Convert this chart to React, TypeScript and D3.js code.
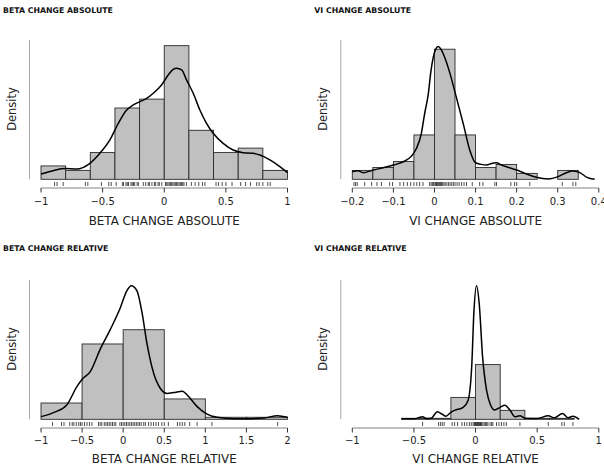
import React from 'react';
import * as d3 from 'd3';

// histogram bins, counts, density line and rug for each variable

const betaAbsEdges = [-1, -0.8, -0.6, -0.4, -0.2, 0, 0.2, 0.4, 0.6, 0.8, 1];
const betaAbsCounts = [3, 2, 6, 16, 18, 30, 11, 6, 7, 2];
const betaAbsCurve: [number, number][] = [
    [-1, 0.059], [-0.9, 0.096], [-0.805, 0.119], [-0.711, 0.115], [-0.603, 0.178],
    [-0.522, 0.289], [-0.441, 0.437], [-0.373, 0.622], [-0.305, 0.77], [-0.251, 0.826],
    [-0.197, 0.863], [-0.143, 0.9], [-0.089, 0.956], [-0.022, 1.048], [0.032, 1.159],
    [0.073, 1.222], [0.1, 1.233], [0.141, 1.215], [0.181, 1.104], [0.235, 0.956],
    [0.289, 0.77], [0.343, 0.622], [0.397, 0.511], [0.478, 0.4], [0.559, 0.326],
    [0.641, 0.296], [0.722, 0.289], [0.776, 0.27], [0.857, 0.215], [0.938, 0.141], [1, 0.074],
];
const betaAbsRug = [
    -0.89, -0.87, -0.82, -0.64, -0.62, -0.51, -0.45, -0.43, -0.39, -0.34, -0.33, -0.31, -0.3,
    -0.29, -0.27, -0.26, -0.25, -0.24, -0.22, -0.21, -0.17, -0.15, -0.13, -0.12, -0.1, -0.08,
    -0.07, -0.05, -0.04, -0.02, 0.01, 0.02, 0.03, 0.04, 0.05, 0.06, 0.07, 0.08, 0.09, 0.1, 0.11,
    0.12, 0.13, 0.14, 0.15, 0.16, 0.18, 0.22, 0.25, 0.28, 0.31, 0.33, 0.42, 0.44, 0.47, 0.5,
    0.55, 0.62, 0.66, 0.7, 0.75, 0.77, 0.8, 0.84, 0.86,
];
const betaAbsTicks = [-1, -0.5, 0, 0.5, 1];

const viAbsEdges = [-0.2, -0.15, -0.1, -0.05, 0, 0.05, 0.1, 0.15, 0.2, 0.25, 0.3, 0.35];
const viAbsCounts = [3, 4, 6, 15, 44, 15, 4, 5, 2, 0, 3];
const viAbsCurve: [number, number][] = [
    [-0.2, 0.51], [-0.186, 0.576], [-0.174, 0.443], [-0.149, 0.621], [-0.125, 0.776],
    [-0.1, 0.953], [-0.076, 1.175], [-0.056, 1.552], [-0.044, 2.062], [-0.032, 3.06],
    [-0.024, 4.39], [-0.015, 5.72], [-0.009, 7.16], [-0.003, 8.16], [0.003, 8.71],
    [0.009, 8.89], [0.017, 8.65], [0.025, 8.16], [0.037, 7.16], [0.049, 5.94], [0.07, 3.73],
    [0.086, 1.95], [0.1, 1.11], [0.114, 1.0], [0.127, 0.953], [0.139, 1.064], [0.151, 1.109],
    [0.163, 0.953], [0.175, 0.843], [0.2, 0.621], [0.224, 0.355], [0.248, 0.133],
    [0.277, 0.022], [0.301, 0.177], [0.321, 0.443], [0.337, 0.554], [0.354, 0.443],
    [0.371, 0.133], [0.39, 0.0],
];
const viAbsRug = [
    -0.196, -0.192, -0.188, -0.17, -0.153, -0.14, -0.129, -0.109, -0.102, -0.084, -0.075,
    -0.066, -0.058, -0.05, -0.043, -0.036, -0.028, -0.012, -0.008, -0.005, -0.002, 0.001,
    0.003, 0.005, 0.007, 0.009, 0.011, 0.013, 0.015, 0.017, 0.02, 0.023, 0.026, 0.03, 0.034,
    0.038, 0.042, 0.046, 0.05, 0.055, 0.06, 0.066, 0.072, 0.078, 0.092, 0.11, 0.118, 0.147,
    0.151, 0.186, 0.195, 0.2, 0.232, 0.311, 0.337, 0.344,
];
const viAbsTicks = [-0.2, -0.1, 0, 0.1, 0.2, 0.3, 0.4];

const betaRelEdges = [-1, -0.5, 0, 0.5, 1, 1.5, 2];
const betaRelCounts = [8, 37, 44, 10, 1, 1];
const betaRelCurve: [number, number][] = [
    [-1, 0.026], [-0.849, 0.065], [-0.687, 0.139], [-0.565, 0.316], [-0.491, 0.397],
    [-0.402, 0.461], [-0.28, 0.68], [-0.159, 0.87], [-0.037, 1.08], [0.044, 1.25],
    [0.099, 1.3], [0.168, 1.25], [0.229, 1.04], [0.29, 0.736], [0.372, 0.445],
    [0.453, 0.3], [0.534, 0.252], [0.616, 0.26], [0.718, 0.274], [0.799, 0.219],
    [0.901, 0.123], [1.015, 0.052], [1.145, 0.019], [1.349, 0.006], [1.512, 0.006],
    [1.715, 0.013], [1.878, 0.035], [2, 0.019],
];
const betaRelRug = [
    -0.86, -0.75, -0.72, -0.65, -0.62, -0.6, -0.57, -0.54, -0.52, -0.5, -0.47, -0.44, -0.41,
    -0.38, -0.3, -0.28, -0.26, -0.23, -0.21, -0.19, -0.17, -0.15, -0.13, -0.11, -0.09, -0.04,
    -0.02, 0, 0.02, 0.04, 0.06, 0.08, 0.1, 0.12, 0.14, 0.16, 0.18, 0.2, 0.22, 0.25, 0.27, 0.31,
    0.34, 0.37, 0.4, 0.43, 0.47, 0.5, 0.55, 0.66, 0.69, 0.72, 0.75, 0.81, 0.9, 1.08, 1.88,
];
const betaRelTicks = [-1, -0.5, 0, 0.5, 1, 1.5, 2];

const viRelEdges = [-0.6, -0.4, -0.2, 0, 0.2, 0.4, 0.6, 0.8];
const viRelCounts = [1, 1, 22, 55, 9, 1, 1];
const viRelCurve: [number, number][] = [
    [-0.6, 0.03], [-0.5, 0.03], [-0.45, 0.11], [-0.43, 0.145], [-0.4, 0.04], [-0.36, 0.06],
    [-0.31, 0.42], [-0.27, 0.28], [-0.24, 0.17], [-0.2, 0.39], [-0.17, 0.5], [-0.1, 0.67],
    [-0.06, 1.07], [-0.03, 3.1], [-0.014, 5.9], [0.008, 7.46], [0.03, 6.44], [0.057, 3.5],
    [0.09, 1.6], [0.12, 0.83], [0.155, 0.52], [0.2, 0.67], [0.238, 0.79], [0.28, 0.5],
    [0.32, 0.14], [0.36, 0.2], [0.4, 0.06], [0.5, 0.04], [0.59, 0.2], [0.64, 0.08],
    [0.705, 0.33], [0.75, 0.09], [0.79, 0.17], [0.84, 0],
];
const viRelRug = [
    -0.43, -0.3, -0.285, -0.27, -0.255, -0.19, -0.17, -0.146, -0.11, -0.09, -0.07, -0.05,
    -0.035, -0.02, -0.01, -0.005, 0, 0.005, 0.01, 0.015, 0.02, 0.025, 0.03, 0.035, 0.04,
    0.045, 0.05, 0.06, 0.07, 0.08, 0.09, 0.1, 0.117, 0.13, 0.14, 0.17, 0.19, 0.21, 0.23,
    0.25, 0.36, 0.59, 0.7, 0.72, 0.79,
];
const viRelTicks = [-1, -0.5, 0, 0.5, 1];

const FONT = '"DejaVu Sans", sans-serif';

// layout inside one panel
const plotLeft = 41;
const plotRight = 287.5;
const plotTop = 40;
const plotBottom = 179.3;

function fmt(v: number) {
    return v < 0 ? '\u2212' + String(-v) : String(v);
}

function Panel(props: any) {
    const { title, axisTitle, edges, counts, curve, rug, ticks, yMax, dx, dy, titleY, labelY, axisTitleY } = props;

    const x = d3.scaleLinear().domain([ticks[0], ticks[ticks.length - 1]]).range([plotLeft, plotRight]);
    const y = d3.scaleLinear().domain([0, yMax]).range([plotBottom, plotTop]);
    const n = d3.sum(counts);

    const line = d3.line<[number, number]>()
        .x(d => x(d[0]))
        .y(d => y(d[1]))
        .curve(d3.curveMonotoneX);

    return (
        <g transform={`translate(${dx}, ${dy})`}>
            <text x={3} y={titleY} fontFamily={FONT} fontSize={7.8} fontWeight="bold" fill="#111">{title}</text>

            {/* y axis: plain line, no ticks */}
            <line x1={29.5} x2={29.5} y1={plotTop} y2={plotBottom} stroke="#a8a8a8" strokeWidth={1} />
            <text transform={`translate(15.5, 109) rotate(-90)`} textAnchor="middle"
                  fontFamily={FONT} fontSize={11.5} fill="#222">Density</text>

            {/* histogram */}
            {counts.map((c: number, i: number) => {
                const dens = c / (n * (edges[i + 1] - edges[i]));
                return (
                    <rect key={i}
                          x={x(edges[i])}
                          y={y(dens)}
                          width={x(edges[i + 1]) - x(edges[i])}
                          height={plotBottom - y(dens)}
                          fill="#c0c0c0" stroke="#2a2a2a" strokeWidth={0.9} />
                );
            })}

            {/* density line */}
            <path d={line(curve) || ''} fill="none" stroke="#000" strokeWidth={1.5} />

            {/* rug */}
            {rug.map((v: number, i: number) => (
                <line key={i} x1={x(v)} x2={x(v)} y1={182} y2={186} stroke="#222" strokeWidth={0.8} />
            ))}

            {/* x axis */}
            <line x1={x(ticks[0])} x2={x(ticks[ticks.length - 1])} y1={188} y2={188} stroke="#666" strokeWidth={0.8} />
            {ticks.map((t: number) => (
                <g key={t}>
                    <line x1={x(t)} x2={x(t)} y1={188} y2={192.5} stroke="#333" strokeWidth={1} />
                    <text x={x(t)} y={labelY} textAnchor="middle" fontFamily={FONT} fontSize={10} fill="#222">{fmt(t)}</text>
                </g>
            ))}
            <text x={(plotLeft + plotRight) / 2} y={axisTitleY} textAnchor="middle"
                  fontFamily={FONT} fontSize={11.9} fill="#222">{axisTitle}</text>
        </g>
    );
}

export default function App() {
    return (
        <svg width={604} height={465} style={{ position: 'absolute', left: 0, top: 0, background: '#fff' }}>
            <Panel title="BETA CHANGE ABSOLUTE" axisTitle="BETA CHANGE ABSOLUTE"
                   edges={betaAbsEdges} counts={betaAbsCounts} curve={betaAbsCurve} rug={betaAbsRug}
                   ticks={betaAbsTicks} yMax={1.548} dx={0} dy={0} titleY={13.3} labelY={204.5} axisTitleY={225} />
            <Panel title="VI CHANGE ABSOLUTE" axisTitle="VI CHANGE ABSOLUTE"
                   edges={viAbsEdges} counts={viAbsCounts} curve={viAbsCurve} rug={viAbsRug}
                   ticks={viAbsTicks} yMax={9.33} dx={311.3} dy={0} titleY={13.3} labelY={204.5} axisTitleY={225} />
            <Panel title="BETA CHANGE RELATIVE" axisTitle="BETA CHANGE RELATIVE"
                   edges={betaRelEdges} counts={betaRelCounts} curve={betaRelCurve} rug={betaRelRug}
                   ticks={betaRelTicks} yMax={1.355} dx={0} dy={240} titleY={11} labelY={203.5} axisTitleY={223} />
            <Panel title="VI CHANGE RELATIVE" axisTitle="VI CHANGE RELATIVE"
                   edges={viRelEdges} counts={viRelCounts} curve={viRelCurve} rug={viRelRug}
                   ticks={viRelTicks} yMax={7.78} dx={311.3} dy={240} titleY={11} labelY={203.5} axisTitleY={223} />
        </svg>
    );
}
